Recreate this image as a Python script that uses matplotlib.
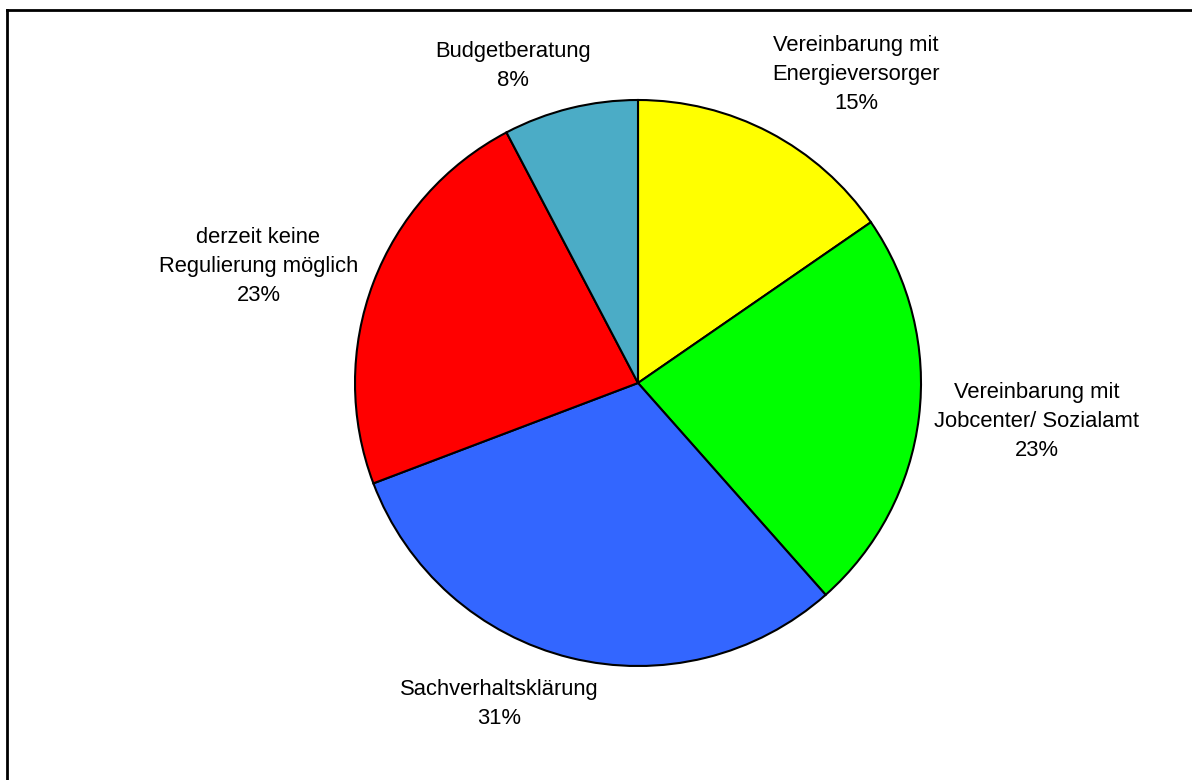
import matplotlib.pyplot as plt
from matplotlib.lines import Line2D

# Share of cases by type of arrangement (counts)
categories = [
    "Vereinbarung mit\nEnergieversorger",
    "Vereinbarung mit\nJobcenter/ Sozialamt",
    "Sachverhaltsklärung",
    "derzeit keine\nRegulierung möglich",
    "Budgetberatung",
]
counts = [6, 9, 12, 9, 3]
colors = ["#FFFF00", "#00FF00", "#3366FF", "#FF0000", "#4BACC6"]

# label centres in axes data units (pie radius = 1)
label_pos = [(0.770, 1.090), (1.408, -0.136), (-0.489, -1.136), (-1.341, 0.413), (-0.442, 1.120)]

W, H = 1192, 780
fig = plt.figure(figsize=(W / 100, H / 100), dpi=100)
plt.rcParams["font.family"] = ["Liberation Sans", "DejaVu Sans"]

cx, cy, r = 638, 383, 283
ax = fig.add_axes([(cx - r) / W, (H - cy - r) / H, 2 * r / W, 2 * r / H])

wedges, _ = ax.pie(counts, colors=colors, startangle=90, counterclock=False, radius=1,
                   wedgeprops=dict(edgecolor="black", linewidth=1.5))
ax.set_xlim(-1, 1)
ax.set_ylim(-1, 1)
ax.axis("off")

total = sum(counts)
for name, n, (x, y) in zip(categories, counts, label_pos):
    ax.text(x, y, f"{name}\n{round(100 * n / total)}%", ha="center", va="center",
            multialignment="center", fontsize=15.8, linespacing=1.5, clip_on=False)

# outer frame (top and left edges)
fig.add_artist(Line2D([7 / W, 1], [1 - 9.5 / H, 1 - 9.5 / H], color="black", linewidth=2))
fig.add_artist(Line2D([7 / W, 7 / W], [0, 1 - 9.5 / H], color="black", linewidth=2))

fig.savefig("out.png", dpi=100, facecolor="white")
